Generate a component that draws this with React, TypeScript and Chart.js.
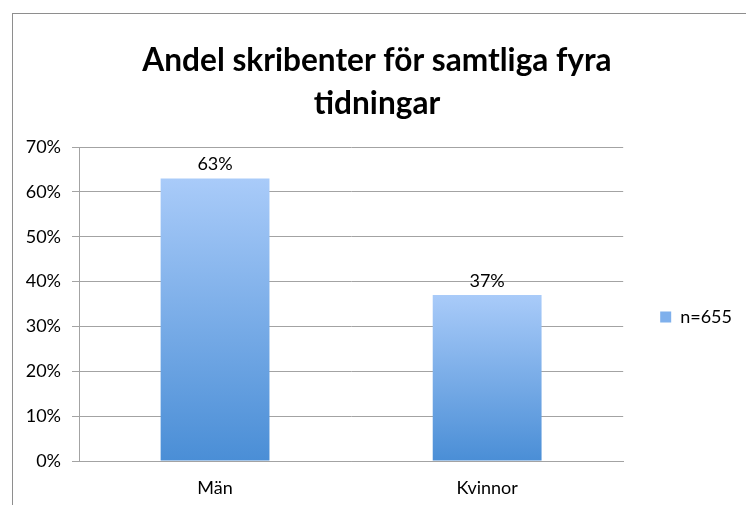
import React, { useEffect, useRef } from "react";
import { Chart, registerables } from "chart.js";

Chart.register(...registerables);

const categories: string[] = ["Män", "Kvinnor"];
const seriesLabel = "n=655";
const seriesValues: number[] = [63, 37];
const titleLines: string[] = ["Andel skribenter för samtliga fyra", "tidningar"];
const yTicks: number[] = [0, 10, 20, 30, 40, 50, 60, 70];

const FONT = "Lato";
const GRID = "#a3a3a3";
const SMALL = 18;

export default function App() {
  const ref = useRef<HTMLCanvasElement | null>(null);

  useEffect(() => {
    if (!ref.current) return;
    const framePlugin = {
      id: "frame",
      beforeDraw(chart: any) {
        const c = chart.ctx;
        c.save();
        c.fillStyle = "#ffffff";
        c.fillRect(0, 0, chart.width, chart.height);
        c.strokeStyle = "#8e8e8e";
        c.lineWidth = 1;
        c.strokeRect(12.5, 13.5, chart.width + 20, chart.height + 20);
        c.restore();
      },
    };
    const valuePlugin = {
      id: "valueLabels",
      afterDatasetsDraw(chart: any) {
        const c = chart.ctx;
        const meta = chart.getDatasetMeta(0);
        c.save();
        c.font = `${SMALL}px ${FONT}`;
        c.fillStyle = "#000000";
        c.textAlign = "center";
        c.textBaseline = "middle";
        meta.data.forEach((el: any, i: number) => {
          c.fillText(seriesValues[i] + "%", el.x, el.y - 14);
        });
        c.restore();
      },
    };

    const chart = new Chart(ref.current, {
      type: "bar",
      data: {
        labels: categories,
        datasets: [
          {
            label: seriesLabel,
            data: seriesValues,
            barPercentage: 0.4,
            categoryPercentage: 1,
            borderWidth: 0,
            backgroundColor: (ctx: any) => {
              const chart = ctx.chart;
              if (!chart.chartArea || ctx.type !== "data") return "#7fb0ec";
              const y = chart.scales.y;
              const top = y.getPixelForValue(ctx.raw as number);
              const bottom = y.getPixelForValue(0);
              const g = chart.ctx.createLinearGradient(0, top, 0, bottom);
              g.addColorStop(0, "#a9cbf9");
              g.addColorStop(1, "#4a8ed6");
              return g;
            },
          },
        ],
      },
      options: {
        animation: false,
        responsive: false,
        layout: { padding: { left: 12, top: 13, right: 4, bottom: 0 } },
        plugins: {
          title: {
            display: true,
            text: titleLines,
            color: "#000000",
            font: { family: FONT, size: 31.6, weight: "bold", lineHeight: 43 / 31.6 },
            padding: { top: 26, bottom: 22 },
          },
          legend: {
            display: true,
            position: "right",
            fullSize: false,
            align: "center",
            title: { display: true, text: "", font: { size: 1, lineHeight: 1 }, padding: { top: 25, bottom: 0 } },
            labels: {
              boxWidth: 11,
              boxHeight: 11,
              padding: 37,
              color: "#000000",
              font: { family: FONT, size: SMALL },
              generateLabels: (chart: any) => {
                const items = (Chart.defaults as any).plugins.legend.labels.generateLabels(chart);
                items.forEach((it: any) => {
                  it.fillStyle = "#7fb0ec";
                  it.strokeStyle = "#7fb0ec";
                  it.lineWidth = 0;
                });
                return items;
              },
            },
          },
          tooltip: { enabled: false },
        },
        scales: {
          x: {
            grid: { display: false, drawTicks: false },
            border: { display: true, color: GRID },
            ticks: { color: "#000000", font: { family: FONT, size: SMALL }, padding: 16 },
            afterFit: (s: any) => {
              s.height = 44;
            },
          },
          y: {
            min: yTicks[0],
            max: yTicks[yTicks.length - 1],
            afterBuildTicks: (s: any) => {
              s.ticks = yTicks.map((v) => ({ value: v }));
            },
            grid: { color: GRID, tickLength: 7, drawTicks: true },
            border: { display: true, color: GRID },
            ticks: {
              color: "#000000",
              font: { family: FONT, size: SMALL },
              padding: 11,
              callback: (v: any) => v + "%",
            },
            afterFit: (s: any) => {
              s.width = 67;
            },
          },
        },
      },
      plugins: [framePlugin, valuePlugin],
    } as any);
    return () => chart.destroy();
  }, []);

  return (
    <div style={{ position: "absolute", left: 0, top: 0, width: 746, height: 505 }}>
      <canvas ref={ref} width={746} height={505} style={{ display: "block" }} />
    </div>
  );
}
